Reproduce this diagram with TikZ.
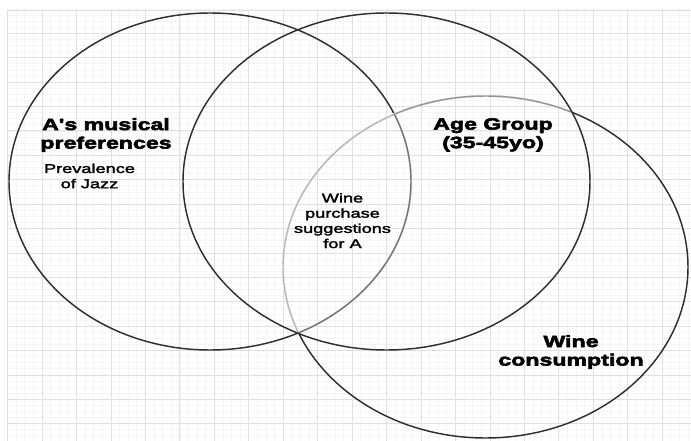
\documentclass[tikz,border=0pt]{standalone}
\usepackage{fontspec}
\newfontfamily\titlef[FakeStretch=1.42,FakeBold=3.5]{Liberation Sans Bold}
\newfontfamily\smallf[FakeStretch=1.42,FakeBold=2.2]{Liberation Sans}
\begin{document}
\begin{tikzpicture}[x=1pt,y=-1pt,
  minorg/.style={draw=black!4,line width=0.5pt},
  majorg/.style={draw=black!12,line width=0.6pt},
  ring/.style={draw=black!82,line width=1.45pt},
  under/.style={draw=white,line width=2.1pt},
  titletext/.style={anchor=north,inner sep=0pt,align=center,text=black,
    font=\titlef\fontsize{16.3}{18.5}\selectfont},
  smalltext/.style={anchor=north,inner sep=0pt,align=center,text=black,
    font=\smallf\fontsize{12.8}{15.2}\selectfont}]
\useasboundingbox (0,0) rectangle (691,441);
\fill[white] (0,0) rectangle (691,441);
% grid
\begin{scope}
\clip (7,10) rectangle (691,441);
\foreach \i in {0,...,80} \draw[minorg] ({7.5+8.6125*\i},10) -- ({7.5+8.6125*\i},441);
\foreach \j in {0,...,72} \draw[minorg] (7,{8.8+6.1*\j}) -- (691,{8.8+6.1*\j});
\foreach \i in {0,...,20} \draw[majorg] ({7.5+34.45*\i},10) -- ({7.5+34.45*\i},441);
\foreach \j in {0,...,18} \draw[majorg] (7,{8.8+24.4*\j}) -- (691,{8.8+24.4*\j});
\draw[majorg] (7,10) -- (691,10);
\end{scope}
% ellipses
\coordinate (cl) at (210,181.5);
\coordinate (cm) at (386.5,181.5);
\coordinate (cr) at (485.5,267);
\draw[ring] (cr) ellipse [x radius=202.5pt, y radius=171pt];
\draw[ring] (cl) ellipse [x radius=201pt, y radius=168.5pt];
\begin{scope}
\clip (cm) ellipse [x radius=203.5pt, y radius=168.5pt];
\draw[under] (cr) ellipse [x radius=202.5pt, y radius=171pt];
\draw[ring,draw=black!42] (cr) ellipse [x radius=202.5pt, y radius=171pt];
\end{scope}
\begin{scope}
\clip (cl) ellipse [x radius=201pt, y radius=168.5pt];
\draw[under] (cr) ellipse [x radius=202.5pt, y radius=171pt];
\draw[ring,draw=black!28] (cr) ellipse [x radius=202.5pt, y radius=171pt];
\end{scope}
\begin{scope}
\clip (cr) ellipse [x radius=202.5pt, y radius=171pt];
\draw[under] (cl) ellipse [x radius=201pt, y radius=168.5pt];
\draw[ring,draw=black!55] (cl) ellipse [x radius=201pt, y radius=168.5pt];
\end{scope}
\draw[ring] (cm) ellipse [x radius=203.5pt, y radius=168.5pt];
% texts
\node[titletext] (music) at (106,118) {A's musical\\preferences};
\node[smalltext] (jazz) at (89.5,163.5) {Prevalence\\of Jazz};
\node[smalltext] (wineA) at (342.5,193) {Wine\\purchase\\suggestions\\for A};
\node[titletext] (age) at (493,118) {Age Group\\(35-45yo)};
\node[titletext] (cons) at (571,335) {Wine\\consumption};
\end{tikzpicture}
\end{document}
